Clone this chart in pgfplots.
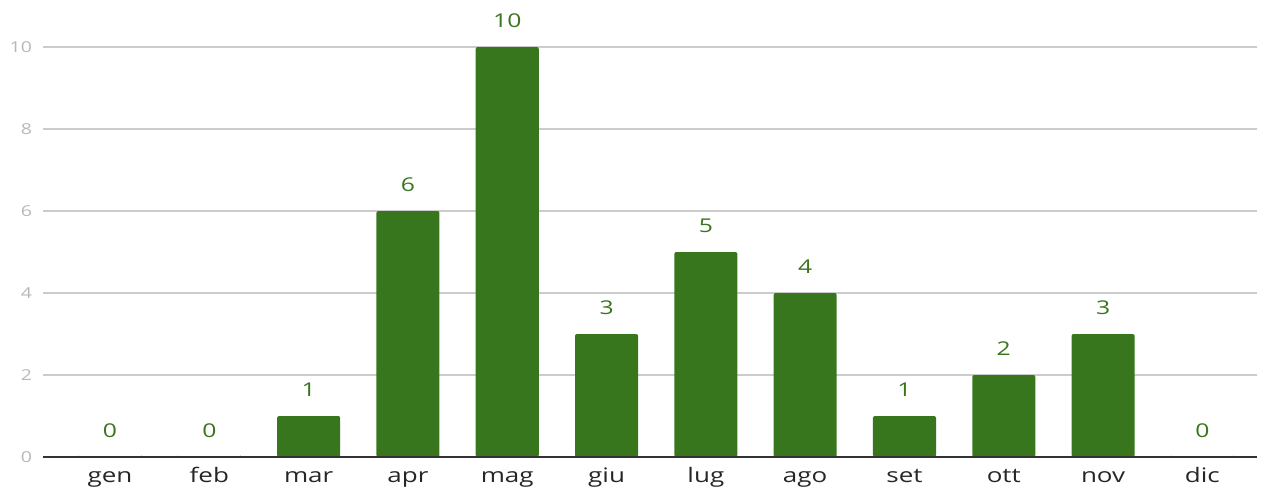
\documentclass[border=0pt]{standalone}
\usepackage{pgfplots}
\pgfplotsset{compat=1.18}
\usepackage{fontspec}
\setmainfont{Open Sans}[FakeStretch=1.3]
\definecolor{bargreen}{HTML}{38761D}
\definecolor{gridgray}{HTML}{CCCCCC}
\definecolor{tickgray}{HTML}{B7B7B7}
\begin{document}
\begin{tikzpicture}
\begin{axis}[
    scale only axis,
    width=607pt, height=205pt,
    xmin=-0.675, xmax=11.55,
    ymin=0, ymax=10,
    ybar, bar width=0.635,
    axis line style={draw=none},
    ytick={0,2,...,10},
    ymajorgrids, grid style={gridgray, line width=0.7pt},
    major tick length=0pt,
    xtick=data,
    xticklabels={gen,feb,mar,apr,mag,giu,lug,ago,set,ott,nov,dic},
    xticklabel style={font=\fontsize{10}{12}\selectfont, text=black!85,
        text height=1.1ex, text depth=0.25ex, yshift=-3.5pt},
    yticklabel style={font=\fontsize{7.5}{9}\selectfont, text=tickgray, xshift=-2pt},
    /pgf/number format/assume math mode=true,
    nodes near coords,
    every node near coord/.append style={font=\fontsize{9.5}{11}\selectfont, text=bargreen, yshift=6pt},
]
\addplot[draw=none, fill=bargreen, rounded corners=1pt] coordinates {
    (0,0) (1,0) (2,1) (3,6) (4,10) (5,3) (6,5) (7,4) (8,1) (9,2) (10,3) (11,0)
};
\draw[black!80, line width=0.7pt] (axis cs:-0.675,0) -- (axis cs:11.55,0);
\end{axis}
\pgfresetboundingbox
\path (-21.5pt,-15.5pt) rectangle (614.5pt,228.5pt);
\end{tikzpicture}
\end{document}
